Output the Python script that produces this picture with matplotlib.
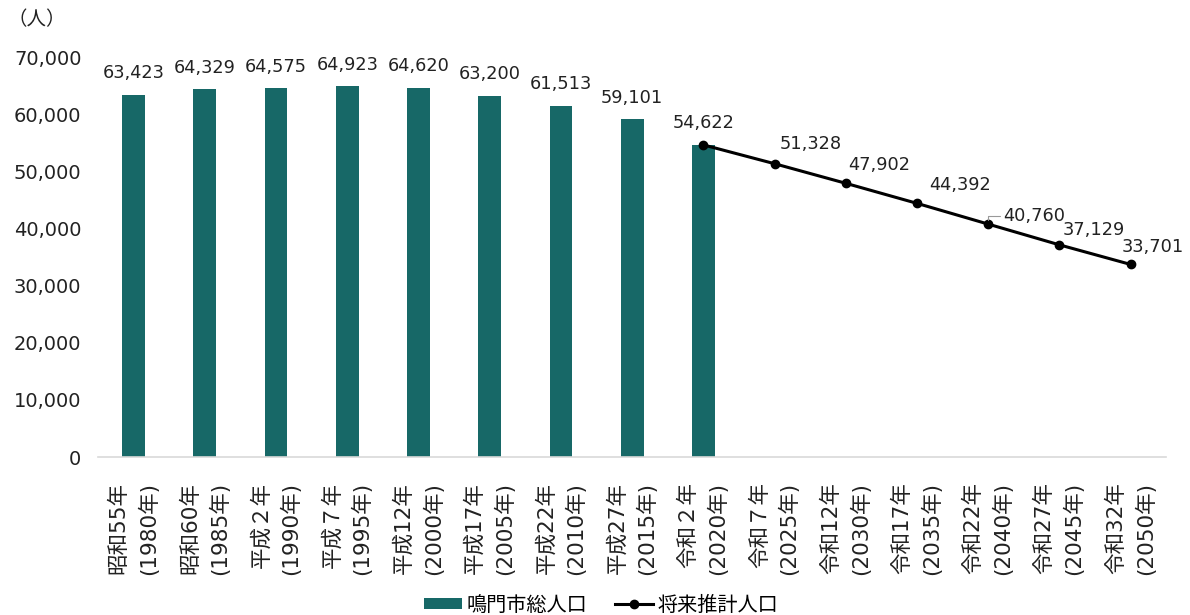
import matplotlib
matplotlib.use("Agg")
import matplotlib.pyplot as plt
from matplotlib.ticker import FuncFormatter

plt.rcParams['font.family'] = ['DejaVu Sans', 'Noto Sans CJK JP']

# データ
wareki = ['昭和55年', '昭和60年', '平成２年', '平成７年', '平成12年', '平成17年',
          '平成22年', '平成27年', '令和２年', '令和７年', '令和12年', '令和17年',
          '令和22年', '令和27年', '令和32年']
seireki = ['1980', '1985', '1990', '1995', '2000', '2005', '2010', '2015',
           '2020', '2025', '2030', '2035', '2040', '2045', '2050']
jinko = [63423, 64329, 64575, 64923, 64620, 63200, 61513, 59101, 54622]
suikei = [54622, 51328, 47902, 44392, 40760, 37129, 33701]
suikei_start = 8

# ラベル位置 (points) - 先頭は棒グラフのラベルと同じなので表示しない
suikei_offsets = [None, (26, 8), (24, 7), (31, 7), (33, -1), (25, 4), (16, 6)]

teal = '#176867'
txt = '#222222'

fig = plt.figure(figsize=(11.9, 6.15), dpi=100)
ax = fig.add_axes([0.0824, 0.2569, 0.8976, 0.6504])

x_bar = list(range(len(jinko)))
ax.bar(x_bar, jinko, width=0.32, color=teal, label='鳴門市総人口', zorder=2)
for xi, v in zip(x_bar, jinko):
    ax.annotate(f'{v:,}', (xi, v), xytext=(0, 9), textcoords='offset points',
                ha='center', va='bottom', fontsize=12.8, color=txt)

x_line = list(range(suikei_start, suikei_start + len(suikei)))
ax.plot(x_line, suikei, color='black', lw=2.2, marker='o', markersize=6,
        label='将来推計人口', zorder=3)
for xi, v, off in zip(x_line, suikei, suikei_offsets):
    if off is None:
        continue
    if v == 40760:
        # 引き出し線つき
        ax.annotate(f'{v:,}', (xi, v), xytext=off, textcoords='offset points',
                    ha='center', va='bottom', fontsize=12.8, color=txt,
                    arrowprops=dict(arrowstyle='-', color='#999999', lw=0.8,
                                    shrinkA=0, shrinkB=3,
                                    connectionstyle='angle,angleA=0,angleB=90,rad=0'))
    else:
        ax.annotate(f'{v:,}', (xi, v), xytext=off, textcoords='offset points',
                    ha='center', va='bottom', fontsize=12.8, color=txt)

ax.set_xlim(-0.5, len(seireki) - 0.5)
ax.set_ylim(0, 70000)
ax.set_yticks(range(0, 70001, 10000))
ax.yaxis.set_major_formatter(FuncFormatter(lambda v, p: f'{int(v):,}'))

ax.set_xticks(range(len(seireki)))
ax.set_xticklabels([f'{w}\n({s}年)' for w, s in zip(wareki, seireki)],
                   rotation=90, ha='center', va='top', multialignment='right',
                   linespacing=1.5)

ax.tick_params(axis='y', length=0, pad=12, labelsize=14, labelcolor=txt)
ax.tick_params(axis='x', length=0, pad=18, labelsize=15.5, labelcolor=txt)

for s in ['top', 'right', 'left']:
    ax.spines[s].set_visible(False)
ax.spines['bottom'].set_color('#d9d9d9')
ax.spines['bottom'].set_linewidth(1.2)

fig.text(0.006, 0.968, '（人）', fontsize=14, ha='left', va='center', color=txt)

handles, labels = ax.get_legend_handles_labels()
order = [labels.index('鳴門市総人口'), labels.index('将来推計人口')]
fig.legend([handles[i] for i in order], [labels[i] for i in order],
           loc='center', bbox_to_anchor=(0.505, 0.016), ncol=2, frameon=False,
           fontsize=14.5, handlelength=1.9, handleheight=0.5, columnspacing=1.4,
           handletextpad=0.2)

fig.savefig('out.png', dpi=100)
